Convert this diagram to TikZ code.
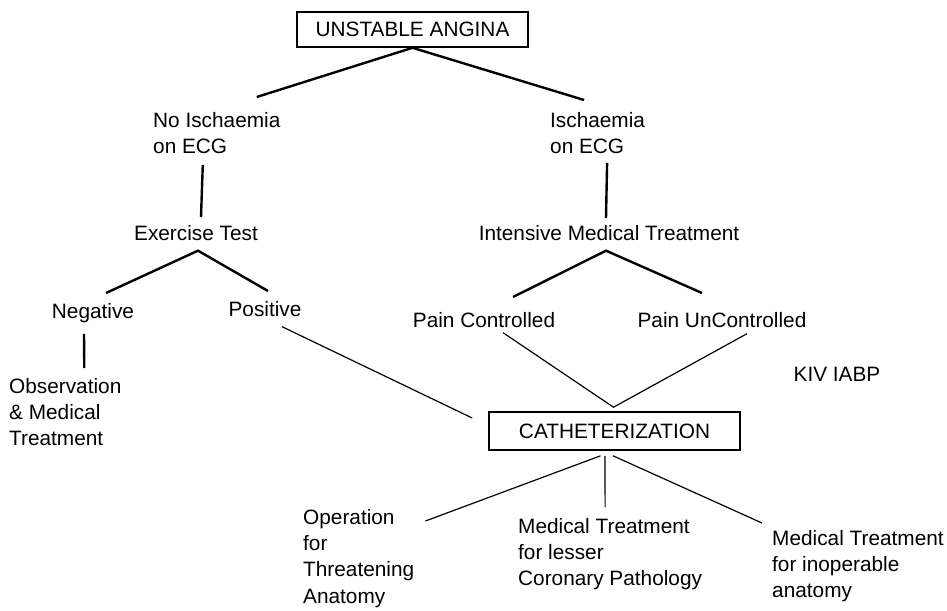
\documentclass[tikz,border=0pt]{standalone}
\usepackage{fontspec}
\setmainfont{Liberation Sans}
\usetikzlibrary{positioning,calc}

\begin{document}
\begin{tikzpicture}[x=1pt,y=-1pt,
  lbl/.style={font=\fontsize{20.8}{26.3}\selectfont,inner sep=0pt,align=left},
  boxnode/.style={lbl,draw,line width=1.6pt,align=center},
  heavy/.style={line width=2.4pt},
  light/.style={line width=1.2pt}]

\useasboundingbox (0,0) rectangle (947,610);

\node[boxnode,minimum width=231pt,minimum height=35pt] (ua) at (412.5,29.5) {UNSTABLE ANGINA};
\node[lbl,anchor=north west] (noisch) at (153,112) {No Ischaemia\\on ECG};
\node[lbl,anchor=north west] (isch) at (550,112) {Ischaemia\\on ECG};
\node[lbl,anchor=north] (ex) at (196,225) {Exercise Test};
\node[lbl,anchor=north] (imt) at (609,225) {Intensive Medical Treatment};
\node[lbl,anchor=north] (neg) at (93,303) {Negative};
\node[lbl,anchor=north] (pos) at (265,301) {Positive};
\node[lbl,anchor=north] (pc) at (484,312) {Pain Controlled};
\node[lbl,anchor=north] (pu) at (722,312) {Pain UnControlled};
\node[lbl,anchor=north west] (obs) at (9,378) {Observation\\\& Medical\\Treatment};
\node[lbl] (kiv) at (837,374.5) {KIV IABP};
\node[boxnode,minimum width=251pt,minimum height=38pt] (cath) at (614.5,431) {CATHETERIZATION};
\node[lbl,anchor=north west] (op) at (303,509) {Operation\\for\\Threatening\\Anatomy};
\node[lbl,anchor=north west] (mtl) at (518,518) {Medical Treatment\\for lesser\\Coronary Pathology};
\node[lbl,anchor=north west] (mti) at (772,530) {Medical Treatment\\for inoperable\\anatomy};

\draw[heavy] ($(noisch.north)+(40,-15)$) -- (ua.south) -- ($(isch.north)+(-13.5,-12)$);
\draw[heavy] ($(noisch.south)+(-14,11)$) -- ($(ex.north)+(5,-8)$);
\draw[heavy] ($(isch.south)+(9.5,9)$) -- ($(imt.north)+(-3,-7)$);
\draw[heavy] ($(neg.north)+(13,-10)$) -- ($(ex.south)+(2,10)$) -- ($(pos.north)+(3,-10)$);
\draw[heavy] ($(pc.north)+(29,-15)$) -- ($(imt.south)+(-3,10)$) -- ($(pu.north)+(-20,-19)$);
\draw[heavy] ($(neg.south)+(-9,11)$) -- ($(obs.north)+(19,-10)$);
\draw[light] ($(pos.south)+(17,10)$) -- ($(cath.west)+(-16,-13)$);
\draw[light] ($(pc.south)+(19,5)$) -- ($(cath.north)+(-1,-4)$) -- ($(pu.south)+(25,6)$);
\draw[light] ($(op.north east)+(11,12)$) -- ($(cath.south)+(-14,5)$);
\draw[light] ($(cath.south)+(-9.5,5)$) -- ($(mtl.north)+(-5,-11)$);
\draw[light] ($(cath.south)+(-1.5,5)$) -- ($(mti.north west)+(-10,-7)$);
\end{tikzpicture}
\end{document}
